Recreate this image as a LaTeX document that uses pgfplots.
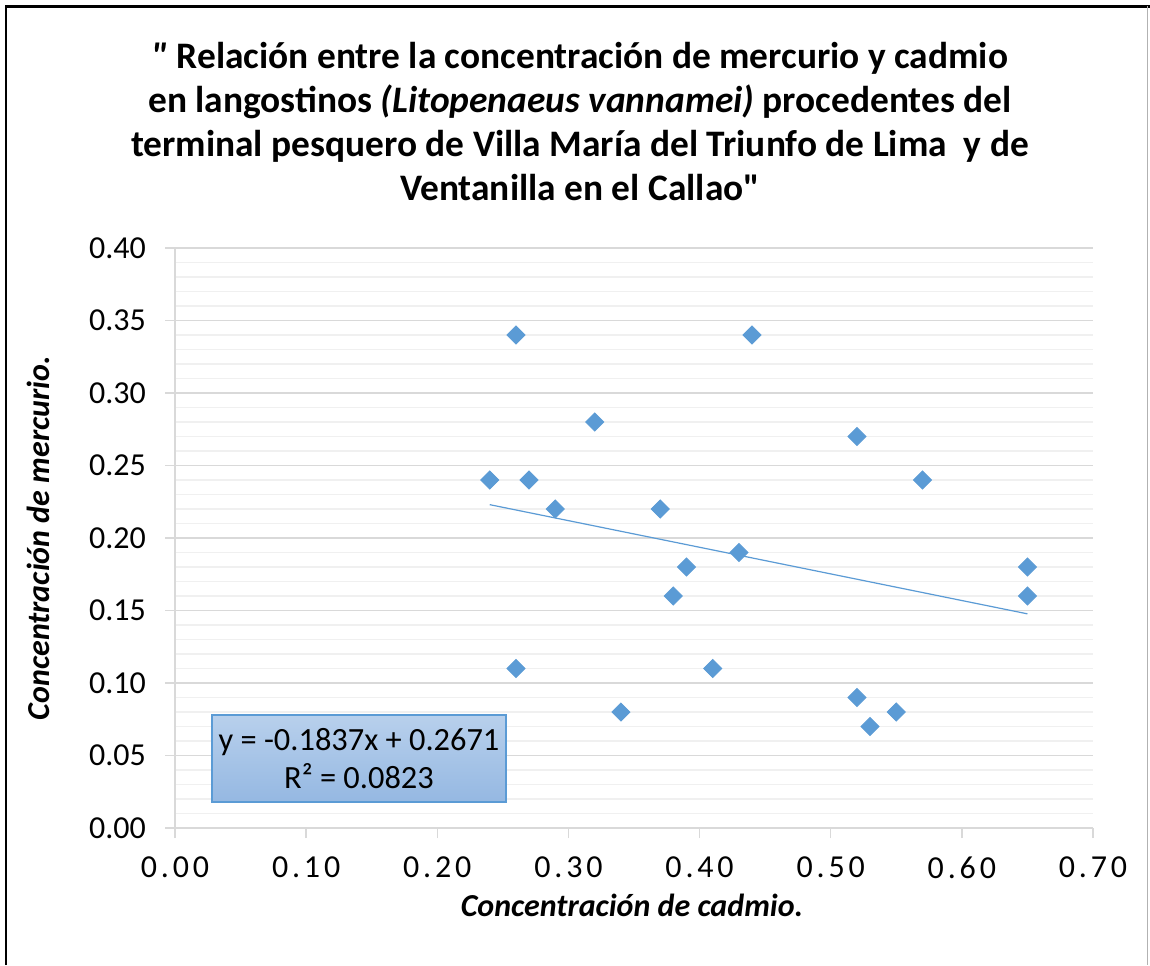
\documentclass[border=0pt]{standalone}
\usepackage{fontspec}
\setmainfont{Carlito}
\newfontfamily\xtickfont[LetterSpace=12]{Carlito}
\newfontfamily\titlefont{Carlito}
\usepackage{pgfplots}
\pgfplotsset{compat=1.18}
\usetikzlibrary{shadings}
\definecolor{mblue}{HTML}{5B9BD5}
\definecolor{boxtop}{HTML}{B8D0EC}
\definecolor{boxbot}{HTML}{95B8E2}
\definecolor{gmaj}{HTML}{D9D9D9}
\definecolor{gmin}{HTML}{F0F0F0}
\begin{document}
\begin{tikzpicture}
\path[use as bounding box] (0,0) rectangle (575pt,482.5pt);
\fill[white] (0,0) rectangle (575pt,482.5pt);
\draw[line width=1.4pt] (3pt,0) -- (3pt,479.3pt) -- (575pt,479.3pt);
\draw[gray!60,line width=0.5pt] (573.8pt,479.3pt) -- (573.8pt,0);
\node[align=center,font=\titlefont\bfseries\fontsize{18.7pt}{22pt}\selectfont] at (290pt,421.5pt)
{\textit{"} Relación entre la concentración de mercurio y cadmio\\
en langostinos \textit{(Litopenaeus vannamei)} procedentes del\\
terminal pesquero de Villa María del Triunfo de Lima \ y de\\
Ventanilla en el Callao"};
\begin{axis}[
  at={(87.5pt,68.5pt)}, anchor=south west,
  scale only axis, width=459pt, height=290pt,
  xmin=0, xmax=0.7, ymin=0, ymax=0.4,
  xtick={0,0.1,0.2,0.3,0.4,0.5,0.6,0.7},
  ytick={0,0.05,0.1,0.15,0.2,0.25,0.3,0.35,0.4},
  minor y tick num=4,
  axis lines*=left,
  axis line style={draw=gmaj, line width=0.75pt},
  tick align=outside,
  major tick length=5pt,
  minor tick length=0pt,
  tick style={draw=gmaj, line width=0.75pt},
  ymajorgrids, yminorgrids,
  major grid style={draw=gmaj, line width=0.75pt},
  minor grid style={draw=gmin, line width=0.6pt},
  /pgf/number format/assume math mode=true,
  /pgf/number format/.cd, fixed, fixed zerofill, precision=2, /pgfplots/.cd,
  xticklabel style={font=\xtickfont\fontsize{16pt}{19pt}\selectfont, yshift=-6pt},
  yticklabel style={font=\fontsize{16pt}{19pt}\selectfont, xshift=-6pt},
  clip=false,
]
\addplot[only marks, mark=square*, mark size=3.2pt, mark options={rotate=45, fill=mblue, draw=mblue}]
coordinates {
(0.24,0.24) (0.26,0.34) (0.26,0.11) (0.27,0.24) (0.29,0.22) (0.32,0.28)
(0.34,0.08) (0.37,0.22) (0.38,0.16) (0.39,0.18) (0.41,0.11) (0.43,0.19)
(0.44,0.34) (0.52,0.27) (0.52,0.09) (0.53,0.07) (0.55,0.08) (0.57,0.24)
(0.65,0.18) (0.65,0.16)
};
\addplot[mblue, line width=0.6pt] coordinates {(0.24,0.2230) (0.65,0.1477)};
\end{axis}
\node[font=\bfseries\itshape\fontsize{16pt}{19pt}\selectfont] at (316pt,30pt) {Concentración de cadmio.};
\node[font=\bfseries\itshape\fontsize{16pt}{19pt}\selectfont, rotate=90] at (19pt,213.5pt) {Concentración de mercurio.};
\node[draw=mblue, line width=0.6pt, top color=boxtop, bottom color=boxbot,
      minimum width=147pt, minimum height=43.5pt, align=center,
      font=\fontsize{16.2pt}{19pt}\selectfont, inner sep=0pt] at (179.5pt,103.25pt)
{y = -0.1837x + 0.2671\\R² = 0.0823};
\end{tikzpicture}
\end{document}
